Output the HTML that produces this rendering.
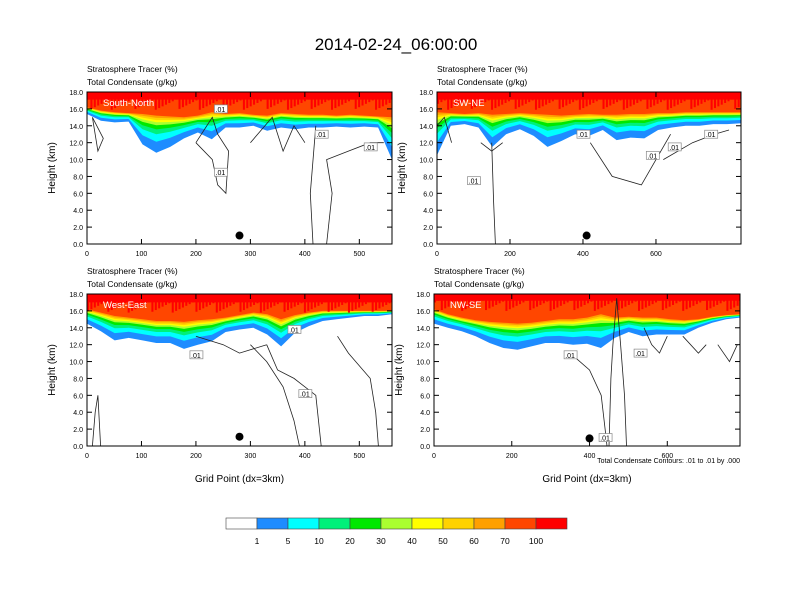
<!DOCTYPE html>
<html><head><meta charset="utf-8"><style>
body{margin:0;background:#fff;}
svg{display:block;font-family:"Liberation Sans",Arial,sans-serif;}
</style></head><body>
<svg id="s" width="792" height="612" viewBox="0 0 792 612">
<text x="396" y="50" text-anchor="middle" font-size="17">2014-02-24_06:00:00</text>
</svg>
<script>
// ---- data ----
const levels = ["1","5","10","20","30","40","50","60","70","100"];
const colors = ["#ffffff","#1e8cff","#00ffff","#00f07a","#00e800","#aaff30","#ffff00","#ffd200","#ffa000","#ff4600","#ff0000"];
const panelNames = ["South-North","SW-NE","West-East","NW-SE"];
const xMaxes = [560, 833, 560, 787];
const xTicks0 = [0,100,200,300,400,500];
const xTicks1 = [0,200,400,600];
const xTicks2 = [0,100,200,300,400,500];
const xTicks3 = [0,200,400,600];
const yTicks = [0,2,4,6,8,10,12,14,16,18];
// base of coloured region (km) at evenly spaced samples across each panel
const base0 = [15.4,14.6,14.4,14.5,11.8,10.8,11.5,12.5,13.2,12.4,13.8,13.8,14.0,13.4,13.8,13.6,13.8,13.8,13.9,13.8,13.9,13.8,10.0];
const base1 = [10.5,14.0,14.2,13.8,11.5,13.0,13.6,12.8,11.5,12.2,13.0,12.8,13.5,12.3,12.6,12.5,13.5,13.8,14.0,14.0,14.2,14.2,14.3];
const base2 = [14.5,13.6,12.5,12.8,12.5,12.2,12.2,11.5,12.0,12.4,13.5,13.8,14.0,13.2,11.8,13.4,14.2,14.8,15.0,15.2,15.4,15.4,15.6];
const base3 = [14.5,14.0,13.6,13.0,12.2,11.6,11.4,11.8,12.2,12.2,12.0,12.1,11.6,12.8,13.5,13.0,13.2,13.2,13.2,14.0,14.6,15.0,15.2];
// bottom of the orange-red band (km) at the same samples
const top0 = [16.2,15.8,15.6,15.5,15.4,15.2,15.1,15.0,15.2,15.6,15.4,15.5,15.3,15.2,15.5,15.4,15.3,15.3,15.2,15.3,15.2,15.1,15.0];
const top1 = [15.6,15.5,15.4,15.5,15.3,15.4,15.5,15.4,15.3,15.2,15.3,15.4,15.3,15.3,15.4,15.4,15.5,15.5,15.6,15.6,15.6,15.6,15.6];
const top2 = [16.2,15.8,15.4,15.2,15.0,14.8,14.8,14.7,14.9,15.0,15.2,15.5,15.8,15.6,15.0,15.5,15.8,16.0,16.0,16.0,16.0,16.0,16.0];
const top3 = [16.2,15.6,15.2,14.9,14.7,14.6,14.5,14.6,14.8,15.0,15.0,15.2,15.6,15.2,15.3,15.2,15.2,15.0,14.9,15.0,15.3,15.5,15.6];
// fraction between base and orange-red bottom for each colour boundary
const layerFrac = [0,0.3,0.5,0.63,0.74,0.82,0.88,0.94,1.0];
const redTop = [17.1,17.1,17.0,17.2];
const dots = [[280,1.0],[410,1.0],[280,1.1],[400,0.9]];
// contour lines (x grid units, height km)
const cont0 = [[[10,15],[20,11],[30,12.5],[10,15]],[[200,12],[230,15],[240,13],[260,11],[255,6],[240,7],[230,10],[200,12]],[[420,14],[410,6],[415,0],[440,0],[450,6],[440,10],[480,11],[520,12],[545,12]],[[300,12],[340,15],[360,11],[380,14],[400,12]]];
const cont1 = [[[0,14],[20,15],[40,12]],[[150,12],[155,5],[160,0]],[[420,12],[480,8],[560,7],[600,10],[640,13]],[[620,10],[700,12],[760,13],[800,13.5]],[[120,12],[150,11],[180,12]]];
const cont2 = [[[300,12],[330,10],[360,7],[380,3],[390,0]],[[330,12],[350,9],[380,8],[420,6],[430,0]],[[460,13],[480,11],[520,8],[530,4],[535,0]],[[200,13],[250,12],[280,11],[330,12]],[[10,0],[15,4],[20,6],[25,0]]];
const cont3 = [[[350,11],[400,9],[430,6],[440,2],[445,0]],[[450,0],[455,8],[460,12],[470,17.5],[480,12],[490,6],[495,0]],[[540,14],[560,12],[580,11],[600,13]],[[640,13],[680,11],[700,12]],[[730,12],[760,10],[780,12]]];
const panelLabels = [[[245,8.5],[430,13],[520,11.5],[245,16]],[[400,13],[590,10.5],[650,11.5],[100,7.5],[750,13]],[[200,10.8],[380,13.8],[400,6.2]],[[350,10.8],[530,11],[440,1]]];

const NS="http://www.w3.org/2000/svg";
const svg=document.getElementById('s');
function el(tag,attrs,parent){const e=document.createElementNS(NS,tag);for(const k in attrs)e.setAttribute(k,attrs[k]);(parent||svg).appendChild(e);return e;}
function txt(x,y,s,size,anchor,parent,fill){const t=el('text',{x:x,y:y,'font-size':size,'text-anchor':anchor||'start',fill:fill||'#000'},parent);t.textContent=s;return t;}

const boxes=[[87,92,305,152],[437,92,304,152],[87,294,305,152],[434,294,306,152]];
const bases=[base0,base1,base2,base3];
const tops=[top0,top1,top2,top3];
const conts=[cont0,cont1,cont2,cont3];
const xt=[xTicks0,xTicks1,xTicks2,xTicks3];
const slug=["south-north","sw-ne","west-east","nw-se"];

for(let p=0;p<4;p++){
  const [L,T,W,H]=boxes[p];
  const g=el('g',{});
  
  
  const xs=v=>L+v/xMaxes[p]*W;
  const ys=v=>T+H-v/18*H;
  const clip=el('clipPath',{id:'c'+p},g);
  el('rect',{x:L,y:T,width:W,height:H},clip);
  const pg=el('g',{'clip-path':'url(#c'+p+')'},g);
  const b=bases[p], tp=tops[p], n=b.length;
  const sx=i=>L+i/(n-1)*W;
  for(let k=0;k<layerFrac.length+1;k++){
    let d='M'+L+','+T;
    for(let i=0;i<n;i++){
      const tt=Math.max(tp[i],b[i]+0.3);
      const h=k<layerFrac.length? b[i]+layerFrac[k]*(tt-b[i]) : redTop[p];
      d+=' L'+sx(i).toFixed(1)+','+ys(h).toFixed(1);
    }
    d+=' L'+(L+W)+','+T+' Z';
    const path=el('path',{d:d,fill:colors[k+1]},pg);
    
    
  }
  // jagged red top
  for(let i=0;i<90;i++){const x=L+i*W/90;const hh=((i*37+p*5)%13)/13*1.3;el('rect',{x:x,y:T,width:W/150,height:(18-redTop[p]+hh)/18*H,fill:'#ff0000'},pg);}
  conts[p].forEach(c=>{
    const d='M'+c.map(q=>xs(q[0]).toFixed(1)+','+ys(q[1]).toFixed(1)).join(' L');
    const path=el('path',{d:d,fill:'none',stroke:'#222','stroke-width':0.8},pg);
    
    
  });
  panelLabels[p].forEach(q=>{
    const r=el('rect',{x:xs(q[0])-6,y:ys(q[1])-4,width:13,height:8,fill:'#fff',stroke:'#888','stroke-width':0.7},pg);
    
    
    txt(xs(q[0]),ys(q[1])+3,'.01',7,'middle',pg);
  });
  const dot=el('circle',{cx:xs(dots[p][0]),cy:ys(dots[p][1]),r:4,fill:'#000'},g);
  
  
  txt(L+16,T+14,panelNames[p],9.5,'start',g,'#fff');
  el('rect',{x:L,y:T,width:W,height:H,fill:'none',stroke:'#000','stroke-width':1},g);
  yTicks.forEach(v=>{
    const y=ys(v);
    el('line',{x1:L,y1:y,x2:L+5,y2:y,stroke:'#000'},g);
    el('line',{x1:L+W,y1:y,x2:L+W-5,y2:y,stroke:'#000'},g);
    txt(L-4,y+3,v.toFixed(1),7,'end',g);
  });
  xt[p].forEach(v=>{
    const x=xs(v);
    el('line',{x1:x,y1:T+H,x2:x,y2:T+H-5,stroke:'#000'},g);
    el('line',{x1:x,y1:T,x2:x,y2:T+5,stroke:'#000'},g);
    txt(x,T+H+12,String(v),7,'middle',g);
  });
  const yt=txt(0,0,'Height (km)',10,'middle',g);
  yt.setAttribute('transform','translate('+(L-32)+','+(T+H/2)+') rotate(-90)');
  
  txt(L,T-20,'Stratosphere Tracer   (%)',8.5,'start',g);
  txt(L,T-7,'Total Condensate   (g/kg)',8.5,'start',g);
  if(p>=2){const xa=txt(L+W/2,T+H+36,'Grid Point (dx=3km)',10,'middle',g);}
}
txt(740,463,'Total Condensate Contours: .01 to .01 by .000',7,'end');
const cb=el('g',{});


const cbL=226,cbW=31;
for(let i=0;i<colors.length;i++){
  const r=el('rect',{x:cbL+i*cbW,y:518,width:cbW,height:11,fill:colors[i],stroke:'#444','stroke-width':0.6},cb);
  
  
}
levels.forEach((s,i)=>txt(cbL+(i+1)*cbW,544,s,8.5,'middle',cb));
</script>
</body></html>
